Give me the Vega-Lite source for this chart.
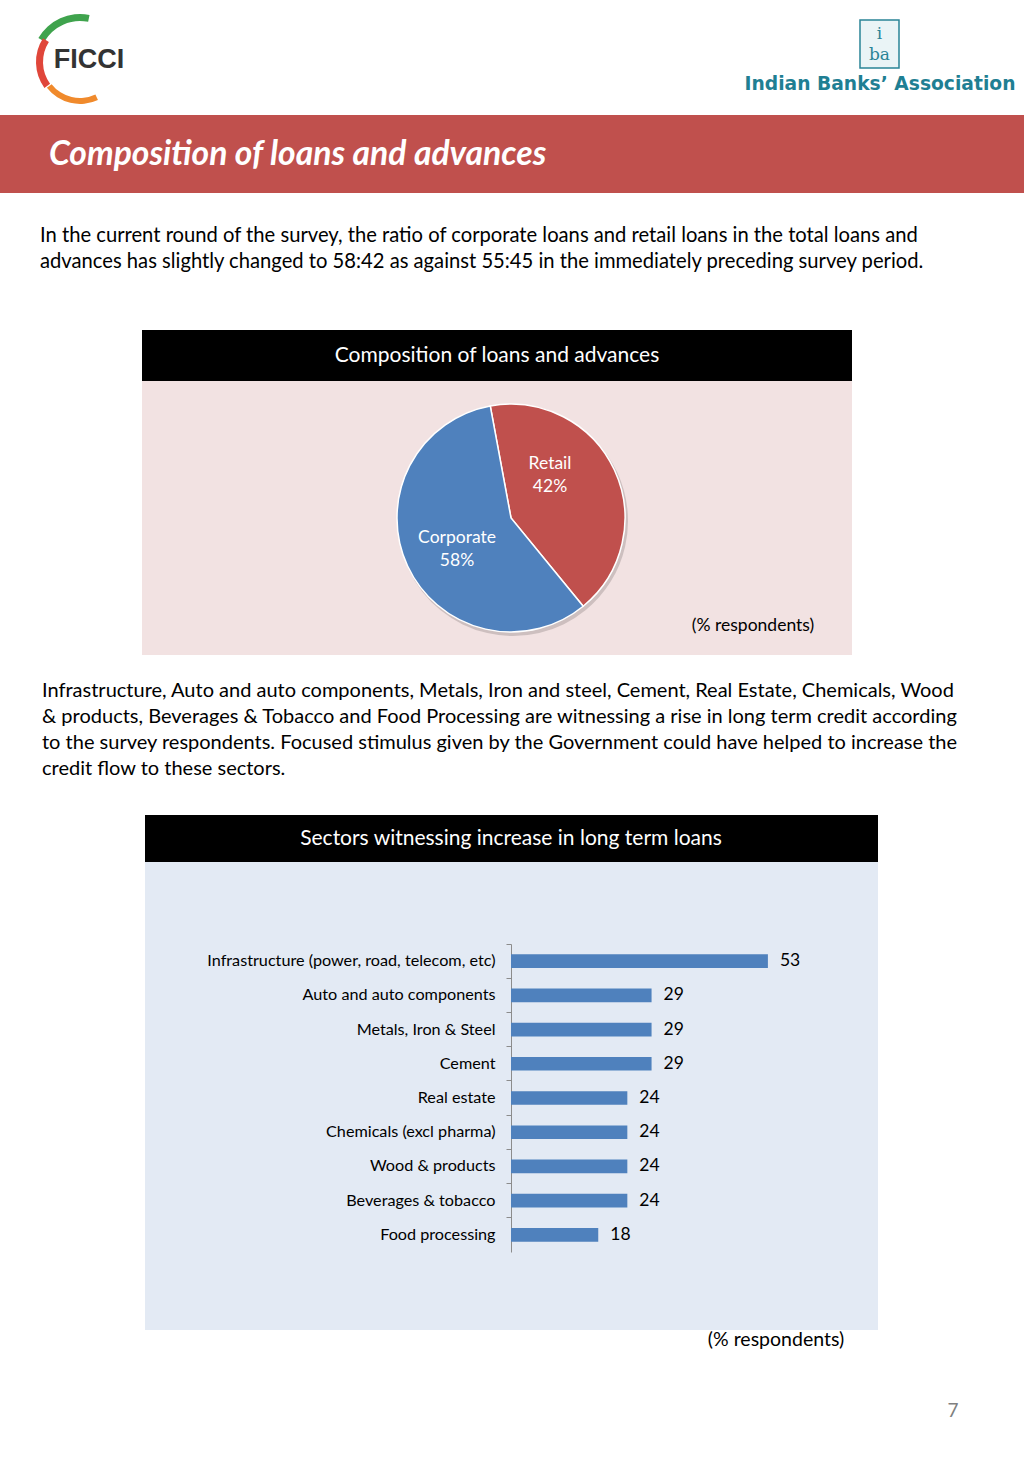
{
  "$schema": "https://vega.github.io/schema/vega-lite/v6.json",
  "padding": 0,
  "background": "white",
  "spacing": 0,
  "config": {"view": {"stroke": null}, "concat": {"spacing": 0}, "font": "Lato"},
  "datasets": {
    "pie": [
      {"segment": "Retail", "share": 42},
      {"segment": "Corporate", "share": 58}
    ],
    "bars": [
      {"sector": "Infrastructure (power, road, telecom, etc)", "pct": 53},
      {"sector": "Auto and auto components", "pct": 29},
      {"sector": "Metals, Iron & Steel", "pct": 29},
      {"sector": "Cement", "pct": 29},
      {"sector": "Real estate", "pct": 24},
      {"sector": "Chemicals (excl pharma)", "pct": 24},
      {"sector": "Wood & products", "pct": 24},
      {"sector": "Beverages & tobacco", "pct": 24},
      {"sector": "Food processing", "pct": 18}
    ],
    "one": [{"k": 1}]
  },
  "vconcat": [
    {
      "width": 1024, "height": 115,
      "data": {"name": "one"},
      "layer": [
        {"mark": {"type": "arc", "x": 80, "y": 62, "radius": 48, "radius2": 41, "theta": -1.05, "theta2": 0.2, "color": "#3FA34D"}, "encoding": {}},
        {"mark": {"type": "arc", "x": 80, "y": 62, "radius": 44, "radius2": 37, "theta": -2.2, "theta2": -1.0, "color": "#E0463A"}, "encoding": {}},
        {"mark": {"type": "arc", "x": 80, "y": 62, "radius": 42, "radius2": 36, "theta": 2.7, "theta2": 4.05, "color": "#F08A2C"}, "encoding": {}},
        {"mark": {"type": "text", "text": "FICCI", "x": 89, "y": 60, "fontSize": 27, "fontWeight": "bold", "font": "Liberation Sans", "color": "#333333", "align": "center", "baseline": "middle"}, "encoding": {}},
        {"mark": {"type": "rect", "x": 860, "x2": 899, "y": 20, "y2": 68, "fill": "#EAF4F6", "stroke": "#2A8497", "strokeWidth": 1.5}, "encoding": {}},
        {"mark": {"type": "text", "text": "i", "x": 879.5, "y": 34, "fontSize": 17, "font": "DejaVu Serif", "color": "#2A8497", "align": "center", "baseline": "middle"}, "encoding": {}},
        {"mark": {"type": "text", "text": "ba", "x": 879.5, "y": 55, "fontSize": 17, "font": "DejaVu Serif", "color": "#2A8497", "align": "center", "baseline": "middle"}, "encoding": {}},
        {"mark": {"type": "text", "text": "Indian Banks\u2019 Association", "x": 880, "y": 84, "fontSize": 18.7, "fontWeight": "bold", "font": "DejaVu Sans", "color": "#1F7F93", "align": "center", "baseline": "middle"}, "encoding": {}}
      ]
    },
    {
      "width": 1024, "height": 78,
      "view": {"fill": "#C0504D"},
      "data": {"name": "one"},
      "mark": {"type": "text", "text": "Composition of loans and advances", "x": 49, "y": 40, "align": "left", "baseline": "middle", "fontSize": 33.7, "fontStyle": "italic", "fontWeight": "bold", "color": "white"},
      "encoding": {}
    },
    {
      "width": 1024, "height": 137,
      "data": {"name": "one"},
      "mark": {"type": "text", "x": 40, "y": 43, "align": "left", "baseline": "middle", "fontSize": 20.2, "lineHeight": 26, "color": "#000000"},
      "encoding": {"text": {"value": ["In the current round of the survey, the ratio of corporate loans and retail loans in the total loans and", "advances has slightly changed to 58:42 as against 55:45 in the immediately preceding survey period."]}}
    },
    {
      "hconcat": [
        {"width": 142, "height": 10, "data": {"values": []}, "mark": "point"},
        {
          "vconcat": [
            {
              "width": 710, "height": 51,
              "view": {"fill": "#000000"},
              "data": {"name": "one"},
              "mark": {"type": "text", "text": "Composition of loans and advances", "x": 355, "y": 26, "align": "center", "baseline": "middle", "fontSize": 21, "color": "white"},
              "encoding": {}
            },
            {
              "width": 710, "height": 274,
              "view": {"fill": "#F2E2E2"},
              "data": {"name": "pie"},
              "layer": [
                {
                  "mark": {"type": "arc", "outerRadius": 115, "x": 371, "y": 140, "fill": "#8a7f7f", "opacity": 0.35},
                  "encoding": {"theta": {"field": "share", "type": "quantitative", "stack": true, "scale": {"range": [-0.183, 6.1]}}}
                },
                {
                  "mark": {"type": "arc", "outerRadius": 114, "x": 369, "y": 137, "stroke": "white", "strokeWidth": 1.5},
                  "encoding": {
                    "theta": {"field": "share", "type": "quantitative", "stack": true, "scale": {"range": [-0.183, 6.1]}},
                    "order": {"field": "share", "sort": "ascending"},
                    "color": {"field": "segment", "type": "nominal", "scale": {"domain": ["Retail", "Corporate"], "range": ["#C0504D", "#4F81BD"]}, "legend": null}
                  }
                },
                {
                  "transform": [{"filter": "datum.segment === 'Retail'"}],
                  "mark": {"type": "text", "x": 369, "y": 137, "radius": 57.7, "theta": 0.742, "dy": -11.5, "align": "center", "baseline": "middle", "fontSize": 17.5, "lineHeight": 23, "color": "white"},
                  "encoding": {"text": {"value": ["Retail", "42%"]}}
                },
                {
                  "transform": [{"filter": "datum.segment === 'Corporate'"}],
                  "mark": {"type": "text", "x": 369, "y": 137, "radius": 62.5, "theta": -2.099, "dy": -11.5, "align": "center", "baseline": "middle", "fontSize": 17.5, "lineHeight": 23, "color": "white"},
                  "encoding": {"text": {"value": ["Corporate", "58%"]}}
                },
                {
                  "transform": [{"filter": "datum.segment === 'Retail'"}],
                  "mark": {"type": "text", "text": "(% respondents)", "x": 611, "y": 245, "align": "center", "baseline": "middle", "fontSize": 17.5, "color": "#000000"},
                  "encoding": {}
                }
              ]
            }
          ]
        }
      ]
    },
    {
      "width": 1024, "height": 160,
      "data": {"name": "one"},
      "mark": {"type": "text", "x": 42, "y": 36, "align": "left", "baseline": "middle", "fontSize": 20, "lineHeight": 26, "color": "#000000"},
      "encoding": {"text": {"value": ["Infrastructure, Auto and auto components, Metals, Iron and steel, Cement, Real Estate, Chemicals, Wood", "& products, Beverages & Tobacco and Food Processing are witnessing a rise in long term credit according", "to the survey respondents. Focused stimulus given by the Government could have helped to increase the", "credit flow to these sectors."]}}
    },
    {
      "hconcat": [
        {"width": 145, "height": 10, "data": {"values": []}, "mark": "point"},
        {
          "vconcat": [
            {
              "width": 733, "height": 47,
              "view": {"fill": "#000000"},
              "data": {"name": "one"},
              "mark": {"type": "text", "text": "Sectors witnessing increase in long term loans", "x": 366, "y": 24, "align": "center", "baseline": "middle", "fontSize": 21, "color": "white"},
              "encoding": {}
            },
            {
              "width": 733, "height": 468,
              "view": {"fill": "#E3EAF4"},
              "data": {"name": "bars"},
              "layer": [
                {
                  "mark": {"type": "bar", "color": "#4F81BD", "height": {"band": 0.4}},
                  "encoding": {
                    "y": {"field": "sector", "type": "nominal", "sort": null, "title": null,
                      "scale": {"range": [82, 390], "paddingInner": 0, "paddingOuter": 0},
                      "axis": {"orient": "left", "offset": -366, "ticks": false, "domainColor": "#8C8C8C", "labelFontSize": 16.2, "labelColor": "#000000", "labelPadding": 16, "labelLimit": 400}},
                    "x": {"field": "pct", "type": "quantitative", "scale": {"domain": [0, 72], "range": [366, 715], "nice": false, "zero": true}, "axis": null}
                  }
                },
                {
                  "mark": {"type": "text", "align": "left", "baseline": "middle", "dx": 12, "fontSize": 17.5, "color": "#000000"},
                  "encoding": {
                    "y": {"field": "sector", "type": "nominal", "sort": null, "title": null,
                      "axis": {"orient": "left", "offset": -366, "labels": false, "domain": false, "ticks": true, "bandPosition": 0, "tickSize": 5, "tickColor": "#8C8C8C"}},
                    "x": {"field": "pct", "type": "quantitative"},
                    "text": {"field": "pct", "type": "quantitative"}
                  }
                }
              ],
              "resolve": {"axis": {"y": "independent"}}
            }
          ]
        }
      ]
    },
    {
      "width": 1024, "height": 148,
      "data": {"name": "one"},
      "layer": [
        {"mark": {"type": "text", "text": "(% respondents)", "x": 776, "y": 9, "align": "center", "baseline": "middle", "fontSize": 19.5, "color": "#000000"}, "encoding": {}},
        {"mark": {"type": "text", "text": "7", "x": 953, "y": 80, "align": "center", "baseline": "middle", "fontSize": 19, "color": "#808080"}, "encoding": {}}
      ]
    }
  ]
}
